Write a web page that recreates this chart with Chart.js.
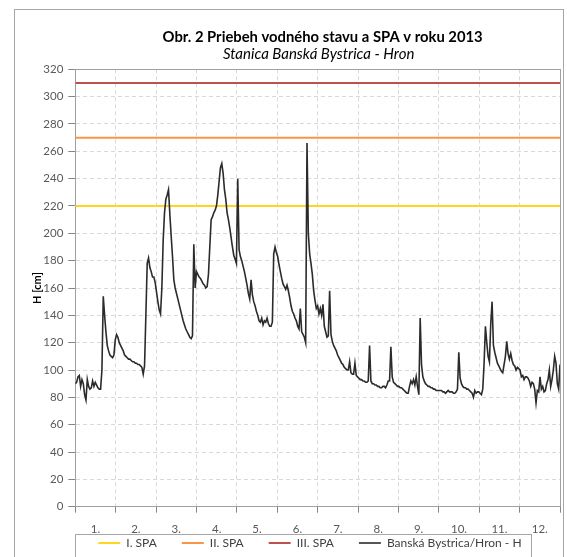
<!DOCTYPE html>
<html>
<head>
<meta charset="utf-8">
<script src="https://cdn.jsdelivr.net/npm/chart.js@4.4.1/dist/chart.umd.min.js"></script>
<style>
    html, body { margin: 0; padding: 0; background: #fff; overflow: hidden; }
    #wrap { position: relative; width: 567px; height: 557px; }
</style>
</head>
<body>
<div id="wrap"><canvas id="myChart"></canvas></div>
<script>
// mesiace na osi x
const months = ['1.', '2.', '3.', '4.', '5.', '6.', '7.', '8.', '9.', '10.', '11.', '12.'];

// denné vodné stavy H [cm], odčítané z grafu
const jan = [90, 91, 95, 96, 88, 93, 90, 82, 78, 93, 88, 86, 87, 92, 88, 91, 89, 87, 86, 86, 100, 154, 140, 128, 118, 114, 111, 110, 109, 111, 122];
const feb = [126, 124, 120, 118, 116, 114, 111, 110, 109, 108, 108, 107, 106, 106, 105, 105, 104, 104, 103, 102, 97, 103, 140, 178, 182, 175, 172, 168];
const mar = [168, 164, 157, 150, 144, 141, 160, 195, 215, 225, 228, 232, 214, 198, 183, 166, 160, 156, 152, 148, 144, 140, 136, 133, 130, 128, 126, 124, 123, 125, 192];
const apr = [160, 172, 170, 168, 167, 165, 163, 162, 160, 161, 170, 190, 210, 212, 215, 217, 220, 228, 238, 248, 251, 244, 232, 225, 215, 210, 204, 197, 190, 184];
const may = [181, 178, 240, 188, 183, 180, 176, 172, 167, 162, 156, 152, 166, 155, 150, 147, 143, 140, 136, 135, 138, 133, 136, 135, 138, 134, 132, 132, 135, 185, 190];
const jun = [186, 183, 177, 172, 167, 163, 161, 159, 162, 158, 153, 147, 143, 141, 138, 136, 132, 130, 145, 128, 126, 124, 120, 266, 200, 185, 178, 170, 158, 151];
const jul = [145, 147, 141, 145, 140, 148, 132, 128, 124, 125, 158, 126, 121, 118, 116, 114, 111, 109, 107, 105, 104, 102, 101, 100, 100, 106, 98, 97, 97, 105, 96];
const aug = [95, 94, 93, 93, 92, 92, 91, 91, 92, 118, 92, 90, 90, 89, 89, 88, 88, 87, 87, 88, 88, 87, 89, 92, 92, 117, 95, 91, 90, 89, 88];
const sep = [88, 87, 87, 86, 85, 84, 83, 83, 88, 92, 90, 93, 89, 95, 88, 82, 138, 104, 95, 92, 90, 89, 88, 88, 87, 87, 86, 86, 85, 85];
const oct = [85, 85, 85, 84, 84, 83, 84, 85, 84, 84, 84, 83, 83, 84, 86, 113, 94, 90, 88, 87, 87, 86, 86, 85, 84, 83, 80, 85, 83, 84, 84];
const nov = [83, 82, 86, 105, 132, 120, 110, 106, 134, 150, 118, 113, 109, 105, 103, 101, 99, 98, 104, 110, 121, 112, 108, 112, 107, 104, 103, 100, 102, 101];
const dec = [100, 95, 96, 93, 95, 95, 94, 92, 88, 91, 90, 86, 76, 85, 84, 95, 86, 88, 84, 85, 90, 93, 100, 88, 93, 100, 110, 105, 90, 86, 104];

// stupne povodňovej aktivity
const spaLabels = ['I. SPA', 'II. SPA', 'III. SPA'];
const spaLevels = [220, 270, 310];
const spaColors = ['#FFD520', '#F79646', '#C0504D'];

const stationLabel = 'Banská Bystrica/Hron - H';
const yMin = 0, yMax = 320, yStep = 20;

const titleText = 'Obr. 2 Priebeh vodného stavu a SPA v roku 2013';
const subtitleText = 'Stanica Banská Bystrica - Hron';

window.onload = function() {
    const hladina = [].concat(jan, feb, mar, apr, may, jun, jul, aug, sep, oct, nov, dec);
    const lastDay = hladina.length - 1;
    const font = { family: 'Lato', size: 11.5 };

    const spaSets = spaLevels.map(function(lvl, k) {
        return {
            label: spaLabels[k],
            data: [{ x: 0, y: lvl }, { x: lastDay, y: lvl }],
            borderColor: spaColors[k],
            backgroundColor: spaColors[k],
            borderWidth: 2,
            pointRadius: 0,
            xAxisID: 'xd',
            order: 1
        };
    });

    // ram grafu, nadpisy a ramik legendy
    const decor = {
        id: 'decor',
        afterLayout(chart) {
            // legenda: ramik zarovnany s lavym okrajom grafu, text 36 px pod osou
            const lg = chart.legend;
            const a = chart.chartArea;
            const p = lg.options.labels.padding;
            const dx = a.left + 23 - (lg.left + p + lg.right - lg.lineWidths[0]) / 2;
            const dy = (a.bottom + 36.3) - (lg.top + p + 6);
            lg.left += dx; lg.right += dx;
            lg.top += dy; lg.bottom += dy;
        },
        beforeDraw(chart) {
            const ctx = chart.ctx;
            ctx.save();
            ctx.fillStyle = '#fff';
            ctx.fillRect(0, 0, chart.width, chart.height);
            ctx.strokeStyle = '#a6a6a6';
            ctx.lineWidth = 1;
            ctx.strokeRect(14.5, 9.5, 549, chart.height + 20);
            ctx.restore();
        },
        beforeDatasetsDraw(chart) {
            const a = chart.chartArea;
            const ctx = chart.ctx;
            ctx.save();
            ctx.strokeStyle = '#a0a0a0';
            ctx.lineWidth = 1;
            ctx.strokeRect(Math.round(a.left) + 0.5, Math.round(a.top) + 0.5, Math.round(a.right - a.left), Math.round(a.bottom - a.top));
            ctx.restore();
        },
        afterDraw(chart) {
            const ctx = chart.ctx;
            const a = chart.chartArea;
            const cx = (a.left + a.right) / 2;
            ctx.save();
            ctx.textAlign = 'center';
            ctx.textBaseline = 'middle';
            ctx.fillStyle = '#000';
            ctx.font = 'bold 14.8px Lato';
            ctx.fillText(titleText, cx + 5, 37);
            ctx.font = 'italic 15px Lato';
            ctx.fillText(subtitleText, cx + 1, 54);

            const boxes = chart.legend.legendHitBoxes;
            if (boxes && boxes.length) {
                const first = boxes[0];
                const last = boxes[boxes.length - 1];
                const left = Math.round(first.left - 23) + 0.5;
                const right = Math.round(last.left + last.width + 9) + 0.5;
                const top = Math.round(first.top + first.height / 2 - 9.5) + 0.5;
                ctx.strokeStyle = '#a6a6a6';
                ctx.lineWidth = 1;
                ctx.strokeRect(left, top, right - left, 40);
            }
            ctx.restore();
        }
    };

    const ctx = document.getElementById('myChart');

    new Chart(ctx, {
        type: 'line',
        data: {
            datasets: spaSets.concat([{
                label: stationLabel,
                data: hladina.map(function(v, i) { return { x: i, y: v }; }),
                borderColor: '#2b2b2b',
                backgroundColor: '#2b2b2b',
                borderWidth: 1.6,
                pointRadius: 0,
                tension: 0,
                xAxisID: 'xd',
                order: 0
            }])
        },
        options: {
            responsive: true,
            maintainAspectRatio: false,
            animation: false,
            devicePixelRatio: 1,
            layout: {
                padding: { top: 69.3, left: 28, right: 7, bottom: -25.9 }
            },
            scales: {
                x: {
                    type: 'category',
                    labels: months,
                    offset: true,
                    position: 'bottom',
                    grid: { offset: true, color: '#d9d9d9', tickColor: '#868686', tickLength: 6 },
                    border: { color: '#868686', dash: [4, 3] },
                    ticks: { color: '#595959', font: font, padding: 10, maxRotation: 0, autoSkip: false },
                    afterFit: function(scale) { scale.height = 29.2; }
                },
                xd: {
                    type: 'linear',
                    display: false,
                    min: 0,
                    max: lastDay
                },
                y: {
                    min: yMin,
                    max: yMax,
                    ticks: { stepSize: yStep, color: '#595959', font: font, padding: 5 },
                    grid: { color: '#d9d9d9', tickColor: '#868686', tickLength: 7 },
                    border: { color: '#868686', dash: [4, 3] },
                    title: {
                        display: true,
                        text: 'H [cm]',
                        color: '#000',
                        font: { family: 'Lato', size: 11, weight: 'bold' },
                        padding: { top: 3, bottom: 0 }
                    },
                    afterFit: function(scale) { scale.width = 47.3; }
                }
            },
            plugins: {
                title: { display: false },
                legend: {
                    position: 'bottom',
                    labels: {
                        usePointStyle: true,
                        pointStyle: 'line',
                        pointStyleWidth: 22,
                        padding: 25,
                        color: '#404040',
                        font: { family: 'Lato', size: 12 },
                        sort: function(a, b) { return a.datasetIndex - b.datasetIndex; }
                    }
                },
                tooltip: { enabled: false }
            }
        },
        plugins: [decor]
    });
};
</script>
</body>
</html>
